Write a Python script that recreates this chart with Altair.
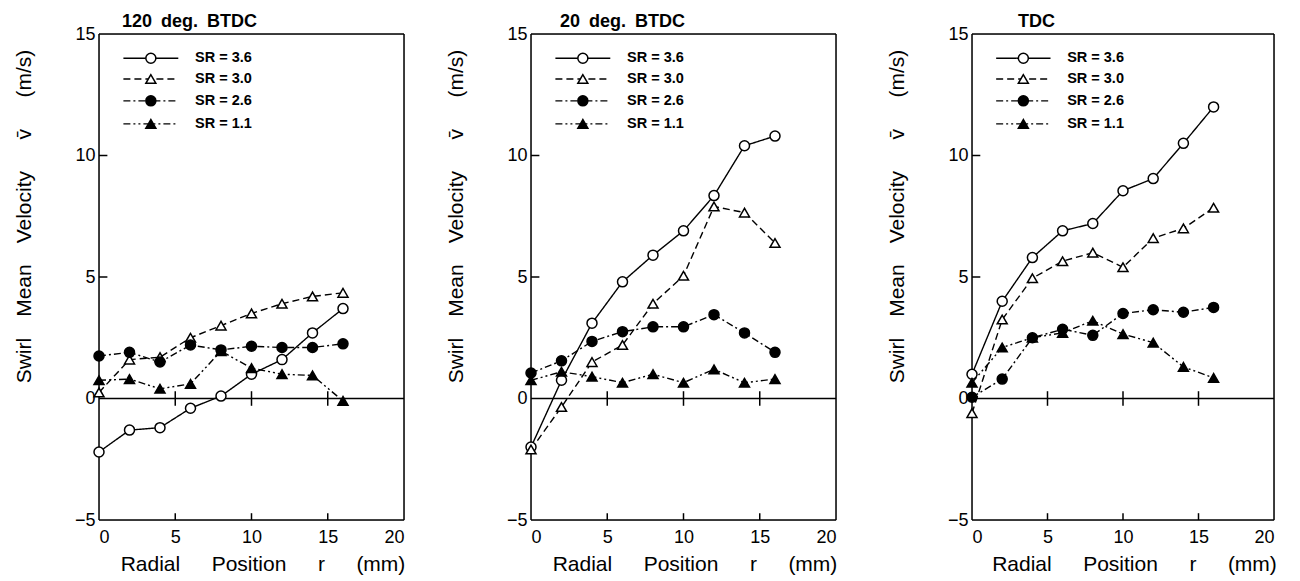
import altair as alt
import pandas as pd

# ---- data ----
r = [0, 2, 4, 6, 8, 10, 12, 14, 16]
series_names = ["SR = 3.6", "SR = 3.0", "SR = 2.6", "SR = 1.1"]

p1_36 = [-2.2, -1.3, -1.2, -0.4, 0.1, 1.0, 1.6, 2.7, 3.7]
p1_30 = [0.25, 1.6, 1.7, 2.5, 3.0, 3.5, 3.9, 4.2, 4.35]
p1_26 = [1.75, 1.9, 1.5, 2.2, 2.0, 2.15, 2.1, 2.1, 2.25]
p1_11 = [0.75, 0.8, 0.4, 0.6, 1.95, 1.25, 1.0, 0.95, -0.1]

p2_36 = [-2.0, 0.75, 3.1, 4.8, 5.9, 6.9, 8.35, 10.4, 10.8]
p2_30 = [-2.1, -0.35, 1.5, 2.2, 3.9, 5.05, 7.9, 7.65, 6.4]
p2_26 = [1.05, 1.55, 2.35, 2.75, 2.95, 2.95, 3.45, 2.7, 1.9]
p2_11 = [0.75, 1.1, 0.9, 0.65, 1.0, 0.65, 1.2, 0.65, 0.8]

p3_36 = [1.0, 4.0, 5.8, 6.9, 7.2, 8.55, 9.05, 10.5, 12.0]
p3_30 = [-0.6, 3.25, 4.95, 5.65, 6.0, 5.4, 6.6, 7.0, 7.85]
p3_26 = [0.05, 0.8, 2.5, 2.85, 2.6, 3.5, 3.65, 3.55, 3.75]
p3_11 = [0.65, 2.1, 2.5, 2.7, 3.2, 2.65, 2.3, 1.3, 0.85]

EN = "\u2002"
EM = "\u2003"
panel_titles = [f"120{EN}deg.{EN}BTDC", f"20{EN}deg.{EN}BTDC", "TDC"]
panel_data = [
    [p1_36, p1_30, p1_26, p1_11],
    [p2_36, p2_30, p2_26, p2_11],
    [p3_36, p3_30, p3_26, p3_11],
]

x_ticks = [0, 5, 10, 15, 20]
y_ticks = [-5, 0, 5, 10, 15]
inner_x_ticks = [5, 10, 15]
inner_y_ticks = [5, 10]
x_domain = [0, 20]
y_domain = [-5, 15]

X_TITLE = f"Radial{EM}{EN}Position{EM}{EN}r{EM}{EN}(mm)"
Y_TITLE = f"Swirl{EM}Mean{EM}Velocity{EM}{EN}v\u0304{EM}{EN}(m/s)"

# ---- styling / layout ----
FONT = "Liberation Sans"
PANEL_W = [305, 305, 302]
PANEL_H = 486
TITLE_DX = [23, 29, 46]
dash_range = [[1, 0], [7, 4], [7, 3, 2, 3], [7, 3, 2, 3, 2, 3]]
shape_range = ["circle", "triangle-up", "circle", "triangle-up"]
fill_range = ["white", "white", "black", "black"]

XS = alt.Scale(domain=x_domain, nice=False, zero=False)
YS = alt.Scale(domain=y_domain, nice=False, zero=False)
dash_scale = alt.Scale(domain=series_names, range=dash_range)
shape_scale = alt.Scale(domain=series_names, range=shape_range)
fill_scale = alt.Scale(domain=series_names, range=fill_range)

# legend layout in data units
LEG_X0, LEG_X1, LEG_XM, LEG_XT = 1.6, 5.2, 3.4, 6.3
LEG_Y = [14.0, 13.15, 12.25, 11.3]


def panel(idx):
    rows = []
    for name, vals in zip(series_names, panel_data[idx]):
        for xv, yv in zip(r, vals):
            rows.append({"series": name, "r": xv, "v": yv})
    df = pd.DataFrame(rows)

    x_axis = alt.Axis(
        values=x_ticks, ticks=False, domain=False, grid=False,
        labelFontSize=18, labelPadding=8, labelColor="black",
        title=X_TITLE, titleFontSize=21, titleX=PANEL_W[idx] / 2 + 11,
        titleFontWeight="normal", titlePadding=7, titleColor="black",
        labelFont=FONT, titleFont=FONT,
    )
    y_axis = alt.Axis(
        values=y_ticks, ticks=False, domain=False, grid=False,
        labelFontSize=18, labelPadding=4, labelColor="black",
        title=Y_TITLE, titleFontSize=21,
        titleFontWeight="normal", titleColor="black",
        titleX=-75, titleY=182, titleAlign="center", titleBaseline="middle",
        titleAngle=270, labelFont=FONT, titleFont=FONT,
    )

    base = alt.Chart(df)
    lines = base.mark_line(color="black", strokeWidth=1.4).encode(
        x=alt.X("r:Q", scale=XS, axis=x_axis),
        y=alt.Y("v:Q", scale=YS, axis=y_axis),
        strokeDash=alt.StrokeDash("series:N", scale=dash_scale, legend=None),
        detail="series:N",
    )
    points = base.mark_point(filled=True, stroke="black", strokeWidth=1.5, opacity=1, size=100).encode(
        x=alt.X("r:Q", scale=XS),
        y=alt.Y("v:Q", scale=YS),
        shape=alt.Shape("series:N", scale=shape_scale, legend=None),
        fill=alt.Fill("series:N", scale=fill_scale, legend=None),
    )

    # zero line and frame
    hlines = alt.Chart(pd.DataFrame({"y0": [0] + y_domain})).mark_rule(
        color="black", strokeWidth=1.5).encode(y=alt.Y("y0:Q", scale=YS))
    vlines = alt.Chart(pd.DataFrame({"x0": x_domain})).mark_rule(
        color="black", strokeWidth=1.5).encode(x=alt.X("x0:Q", scale=XS))

    tick_rows = []
    for t in inner_x_ticks:
        tick_rows.append({"x": t, "x2": t, "y": -0.3, "y2": 0.3})
        tick_rows.append({"x": t, "x2": t, "y": -5, "y2": -4.72})
    for t in inner_y_ticks:
        tick_rows.append({"x": 0, "x2": 0.55, "y": t, "y2": t})
    ticks = alt.Chart(pd.DataFrame(tick_rows)).mark_rule(color="black", strokeWidth=1.5).encode(
        x=alt.X("x:Q", scale=XS), x2="x2:Q",
        y=alt.Y("y:Q", scale=YS), y2="y2:Q",
    )

    leg = pd.DataFrame({
        "series": series_names,
        "lx0": [LEG_X0] * 4, "lx1": [LEG_X1] * 4, "lxm": [LEG_XM] * 4,
        "lxt": [LEG_XT] * 4, "ly": LEG_Y,
    })
    lbase = alt.Chart(leg)
    leg_lines = lbase.mark_rule(color="black", strokeWidth=1.4).encode(
        x=alt.X("lx0:Q", scale=XS), x2="lx1:Q",
        y=alt.Y("ly:Q", scale=YS),
        strokeDash=alt.StrokeDash("series:N", scale=dash_scale, legend=None),
    )
    leg_pts = lbase.mark_point(filled=True, stroke="black", strokeWidth=1.5, opacity=1, size=100).encode(
        x=alt.X("lxm:Q", scale=XS),
        y=alt.Y("ly:Q", scale=YS),
        shape=alt.Shape("series:N", scale=shape_scale, legend=None),
        fill=alt.Fill("series:N", scale=fill_scale, legend=None),
    )
    leg_txt = lbase.mark_text(align="left", baseline="middle", fontSize=14.5, fontWeight="bold",
                              font=FONT, color="black").encode(
        x=alt.X("lxt:Q", scale=XS),
        y=alt.Y("ly:Q", scale=YS),
        text="series:N",
    )

    return alt.layer(hlines, vlines, ticks, lines, points, leg_lines, leg_pts, leg_txt).properties(
        width=PANEL_W[idx], height=PANEL_H,
        title=alt.TitleParams(panel_titles[idx], anchor="start", frame="group", dx=TITLE_DX[idx],
                              fontSize=18, fontWeight="bold", font=FONT, color="black", offset=-6),
    )


left_pair = alt.hconcat(panel(0), panel(1), spacing=38)
chart = alt.hconcat(left_pair, panel(2), spacing=47).properties(
    padding={"left": 4, "top": 4, "right": 5, "bottom": 0}
).configure_view(
    stroke=None
).configure(font=FONT, background="white")

chart.save("out.html", embed_options={"renderer": "svg", "actions": False})
